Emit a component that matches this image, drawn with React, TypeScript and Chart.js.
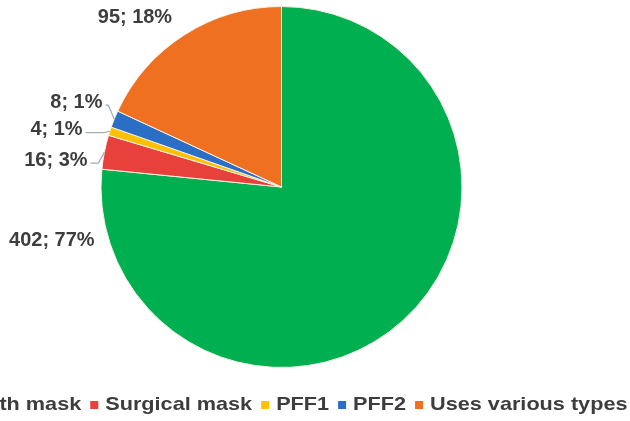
import React, { useEffect, useRef } from "react";
import { Chart, registerables } from "chart.js";

Chart.register(...registerables);

// ---- data ----
const categories = ["Cloth mask", "Surgical mask", "PFF1", "PFF2", "Uses various types"];
const counts = [402, 16, 4, 8, 95];
const percents = [77, 3, 1, 1, 18];
const colors = ["#00B050", "#E8403A", "#FFC000", "#2A6EC6", "#F07022"];

// ---- label placement (relative to pie centre, in units of the radius) ----
const labelPlacement = [
  { fx: -1.036, fy: 0.296, align: "right", leader: false },
  { fx: -1.075, fy: -0.149, align: "right", leader: true },
  { fx: -1.102, fy: -0.318, align: "right", leader: true },
  { fx: -0.992, fy: -0.47, align: "right", leader: true },
  { fx: -0.812, fy: -0.939, align: "center", leader: false },
];

const TEXT_COLOR = "#3d3d3d";
const LEADER_COLOR = "#a3aab8";

const sliceLabels = {
  id: "sliceLabels",
  afterDatasetsDraw(chart: any) {
    const ctx = chart.ctx as CanvasRenderingContext2D;
    const meta = chart.getDatasetMeta(0);
    const sx = 0.95;
    ctx.save();
    ctx.font = "bold 21px 'Liberation Sans', Arial, sans-serif";
    ctx.textBaseline = "middle";
    meta.data.forEach((arc: any, i: number) => {
      const { x, y, outerRadius, startAngle, endAngle } = arc.getProps(
        ["x", "y", "outerRadius", "startAngle", "endAngle"],
        true
      );
      const p = labelPlacement[i];
      const lx = x + p.fx * outerRadius;
      const ly = y + p.fy * outerRadius;
      ctx.save();
      ctx.translate(lx, ly);
      ctx.scale(sx, 1);
      ctx.textAlign = p.align as CanvasTextAlign;
      ctx.fillStyle = TEXT_COLOR;
      ctx.fillText(`${counts[i]}; ${percents[i]}%`, 0, 0);
      ctx.restore();
      if (p.leader) {
        const mid = (startAngle + endAngle) / 2;
        const ax = x + Math.cos(mid) * outerRadius;
        const ay = y + Math.sin(mid) * outerRadius;
        const px = lx + 3;
        const py = ly + 3;
        ctx.beginPath();
        ctx.moveTo(px, py);
        const ex = ax - 6;
        if (ex > px) ctx.lineTo(ex, py);
        ctx.lineTo(ax, ay);
        ctx.strokeStyle = LEADER_COLOR;
        ctx.lineWidth = 1.2;
        ctx.stroke();
      }
    });
    ctx.restore();
  },
};

const bottomLegend = {
  id: "bottomLegend",
  afterDraw(chart: any) {
    const ctx = chart.ctx as CanvasRenderingContext2D;
    const area = chart.chartArea;
    const cx = (area.left + area.right) / 2 + 7;
    const baseline = chart.height - 11;
    const stretch = 1.14;
    const box = 8;
    const gapText = 7;
    const gapItem = 9;
    ctx.save();
    ctx.font = "bold 19px 'Liberation Sans', Arial, sans-serif";
    ctx.textBaseline = "alphabetic";
    ctx.textAlign = "left";
    const widths = categories.map((c) => ctx.measureText(c).width * stretch);
    const total =
      widths.reduce((a, w) => a + box + gapText + w, 0) + gapItem * (categories.length - 1);
    let x = cx - total / 2;
    categories.forEach((c, i) => {
      ctx.fillStyle = colors[i];
      ctx.fillRect(x, baseline - 9, box, box);
      x += box + gapText;
      ctx.save();
      ctx.translate(x, baseline);
      ctx.scale(stretch, 1);
      ctx.fillStyle = TEXT_COLOR;
      ctx.fillText(c, 0, 0);
      ctx.restore();
      x += widths[i] + gapItem;
    });
    ctx.restore();
  },
};

export default function App() {
  const ref = useRef<HTMLCanvasElement | null>(null);

  useEffect(() => {
    if (!ref.current) return;
    const chart = new Chart(ref.current, {
      type: "pie",
      data: {
        labels: categories,
        datasets: [
          {
            data: counts,
            backgroundColor: colors,
            borderColor: "#F6F1E4",
            borderWidth: 1,
          },
        ],
      },
      options: {
        responsive: false,
        animation: false,
        devicePixelRatio: 1,
        layout: { padding: { left: 100, right: 167, top: 6, bottom: 53 } },
        plugins: {
          legend: { display: false },
          tooltip: { enabled: false },
        },
      },
      plugins: [sliceLabels, bottomLegend],
    });
    return () => chart.destroy();
  }, []);

  return (
    <div style={{ position: "fixed", left: 0, top: 0, width: 630, height: 421, background: "#fff" }}>
      <canvas ref={ref} width={630} height={421} style={{ width: 630, height: 421 }} />
    </div>
  );
}
